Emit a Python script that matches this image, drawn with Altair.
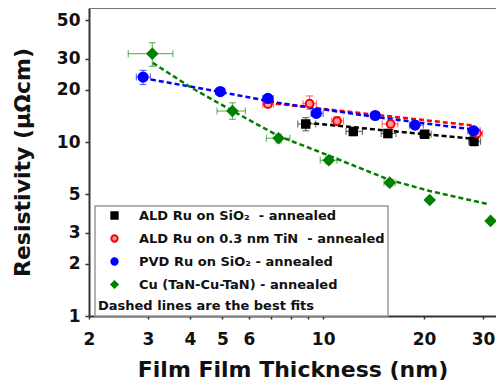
import altair as alt
import pandas as pd

NB = "\u00a0"
series = ["ALD Ru on SiO₂" + NB + " - annealed", "ALD Ru on 0.3 nm TiN" + NB + " - annealed",
          "PVD Ru on SiO₂ - annealed", "Cu (TaN-Cu-TaN) - annealed"]
colors = ["#000000", "#ff0000", "#0000ff", "#008000"]
fills = ["#000000", "#ff9a9a", "#0000ff", "#008000"]
shapes = ["square", "circle", "circle", "diamond"]
sizes = [55, 60, 85, 95]

x_ticks = [2, 3, 4, 5, 6, 7, 8, 9, 10, 20, 30]
y_ticks = [1, 2, 3, 5, 10, 20, 30, 50]

# ALD Ru on SiO2
ald_x = [8.87, 12.3, 15.6, 20.1, 28.2]
ald_y = [12.7, 11.5, 11.2, 11.07, 10.1]
ald_xlo = [8.4, 11.7, 14.9, 19.4, 27.2]
ald_xhi = [9.5, 13.1, 16.5, 21.0, 29.5]
ald_ylo = [11.6, 10.9, 10.6, 10.5, 9.5]
ald_yhi = [13.8, 12.1, 11.8, 11.6, 10.8]
ald_fit_x = [8.9, 28.4]
ald_fit_y = [12.9, 10.4]

# ALD Ru on 0.3 nm TiN
tin_x = [6.84, 9.11, 11.0, 15.9, 28.8]
tin_y = [16.5, 16.6, 13.2, 12.7, 11.2]
tin_xlo = [6.6, 8.7, 10.6, 15.0, 27.5]
tin_xhi = [7.1, 9.55, 11.5, 16.7, 29.9]
tin_ylo = [15.8, 15.4, 12.4, 11.8, 10.6]
tin_yhi = [17.2, 18.4, 14.0, 13.8, 11.8]
tin_fit_x = [6.84, 28.4]
tin_fit_y = [16.8, 12.4]

# PVD Ru on SiO2
pvd_x = [2.90, 4.93, 6.84, 9.54, 14.3, 18.8, 28.1]
pvd_y = [23.6, 19.5, 17.8, 14.6, 14.2, 12.5, 11.6]
pvd_xlo = [2.77, 4.78, 6.6, 9.2, 13.9, 18.1, 27.0]
pvd_xhi = [3.05, 5.08, 7.1, 10.0, 14.7, 19.9, 29.4]
pvd_ylo = [21.4, 18.8, 17.1, 14.0, 13.6, 12.0, 11.0]
pvd_yhi = [25.8, 20.2, 18.5, 15.2, 14.8, 13.0, 12.2]
pvd_fit_x = [2.90, 4.93, 7.32, 14.4, 28.0]
pvd_fit_y = [23.3, 19.4, 16.8, 13.9, 11.8]

# Cu (TaN-Cu-TaN)
cu_x = [3.09, 5.36, 7.36, 10.39, 15.8, 20.8, 31.6]
cu_y = [32.2, 15.07, 10.5, 7.85, 5.84, 4.64, 3.52]
cu_xlo = [2.62, 4.82, 6.77, 9.8, 15.2, 20.8, 31.6]
cu_xhi = [3.56, 5.86, 7.95, 11.0, 16.4, 20.8, 31.6]
cu_ylo = [27.2, 13.5, 9.9, 7.5, 5.6, 4.64, 3.52]
cu_yhi = [37.2, 16.8, 11.1, 8.2, 6.1, 4.64, 3.52]
cu_fit_x = [3.10, 4.06, 5.36, 7.37, 9.60, 15.8, 20.8, 31.0]
cu_fit_y = [28.5, 20.4, 15.1, 10.8, 8.88, 6.05, 5.23, 4.40]

groups = [
    (ald_x, ald_y, ald_xlo, ald_xhi, ald_ylo, ald_yhi, ald_fit_x, ald_fit_y),
    (tin_x, tin_y, tin_xlo, tin_xhi, tin_ylo, tin_yhi, tin_fit_x, tin_fit_y),
    (pvd_x, pvd_y, pvd_xlo, pvd_xhi, pvd_ylo, pvd_yhi, pvd_fit_x, pvd_fit_y),
    (cu_x, cu_y, cu_xlo, cu_xhi, cu_ylo, cu_yhi, cu_fit_x, cu_fit_y),
]

pts, fits = [], []
for k, (xs_, ys_, xlo, xhi, ylo, yhi, fx, fy) in enumerate(groups):
    for i in range(len(xs_)):
        pts.append(dict(series=series[k], col=colors[k], sz=sizes[k], x=xs_[i], y=ys_[i],
                        xlo=xlo[i], xhi=xhi[i], ylo=ylo[i], yhi=yhi[i]))
    for i in range(len(fx)):
        fits.append(dict(series=series[k], col=colors[k], x=fx[i], y=fy[i], idx=i))
pts = pd.DataFrame(pts)
fits = pd.DataFrame(fits)

W, H = 407, 308
xs = alt.Scale(type="log", domain=[2, 32.8], nice=False)
ys = alt.Scale(type="log", domain=[1, 58.9], nice=False)

xaxis = alt.Axis(values=x_ticks, title="Film Film Thickness (nm)",
                 labelExpr="indexof([7,8,9], datum.value) >= 0 ? '' : datum.label",
                 labelFlush=False, labelOverlap=False, tickSize=3, labelPadding=12,
                 titlePadding=12, grid=False)
yaxis = alt.Axis(values=y_ticks, title="Resistivity (μΩcm)", format="d",
                 labelOverlap=False, tickSize=4, labelPadding=5,
                 titlePadding=22, grid=False)

base = alt.Chart(pts)
col = alt.Color("col:N", scale=None)
eb = dict(opacity=0.55)

hbar = base.mark_rule(strokeWidth=1.2, **eb).encode(
    x=alt.X("xlo:Q", scale=xs, axis=xaxis), x2="xhi:Q",
    y=alt.Y("y:Q", scale=ys, axis=yaxis), color=col)
vbar = base.mark_rule(strokeWidth=1.2, **eb).encode(
    x="x:Q", y="ylo:Q", y2="yhi:Q", color=col)
capx1 = base.mark_tick(orient="vertical", size=7, thickness=1.2, **eb).encode(
    x="xlo:Q", y="y:Q", color=col)
capx2 = base.mark_tick(orient="vertical", size=7, thickness=1.2, **eb).encode(
    x="xhi:Q", y="y:Q", color=col)
capy1 = base.mark_tick(orient="horizontal", size=7, thickness=1.2, **eb).encode(
    x="x:Q", y="ylo:Q", color=col)
capy2 = base.mark_tick(orient="horizontal", size=7, thickness=1.2, **eb).encode(
    x="x:Q", y="yhi:Q", color=col)

lines = alt.Chart(fits).mark_line(strokeWidth=2.5, strokeDash=[5, 3]).encode(
    x="x:Q", y="y:Q", detail="series:N", order="idx:Q", color=col)

leg = alt.Legend(title="Dashed lines are the best fits")
points = base.mark_point(filled=False, strokeWidth=2, opacity=1).encode(
    x="x:Q", y="y:Q",
    fill=alt.Fill("series:N", scale=alt.Scale(domain=series, range=fills), legend=leg),
    stroke=alt.Stroke("series:N", scale=alt.Scale(domain=series, range=colors), legend=leg),
    shape=alt.Shape("series:N", scale=alt.Scale(domain=series, range=shapes), legend=leg),
    size=alt.Size("sz:Q", scale=None),
)

# top frame line of the plot box
frame_top = alt.Chart(pts).mark_rule(color="#777777", strokeWidth=2).encode(
    x=alt.value(0), x2=alt.value(W), y=alt.value(0))

chart = alt.layer(hbar, vbar, capx1, capx2, capy1, capy2, lines, points, frame_top).properties(
    width=W, height=H,
    autosize=alt.AutoSizeParams(type="none"),
    padding={"left": 81, "top": 0, "right": 0, "bottom": 67},
).configure(
    font="DejaVu Sans",
).configure_view(
    strokeWidth=0,
).configure_axis(
    labelFont="DejaVu Sans", labelFontWeight="bold", labelFontSize=17, labelColor="#111111",
    titleFont="DejaVu Sans", titleFontWeight="bold", titleFontSize=22, titleColor="#111111",
    domainColor="#333333", domainWidth=2, tickColor="#333333", tickWidth=1.5,
).configure_legend(
    orient="none", legendX=6, legendY=198,
    strokeColor="#999999", strokeWidth=1.5, fillColor="white",
    padding=3, titleOrient="bottom", titleAnchor="start",
    titleFont="DejaVu Sans", titleFontWeight="bold", titleFontSize=13, titleColor="#111111",
    titleLimit=400, titlePadding=8,
    labelFont="DejaVu Sans", labelFontWeight="bold", labelFontSize=13, labelColor="#111111",
    labelLimit=400, labelOffset=18, symbolOffset=10, symbolSize=40, symbolStrokeWidth=2,
    rowPadding=8,
)

chart.save("out.html", embed_options={"renderer": "svg", "actions": False})
